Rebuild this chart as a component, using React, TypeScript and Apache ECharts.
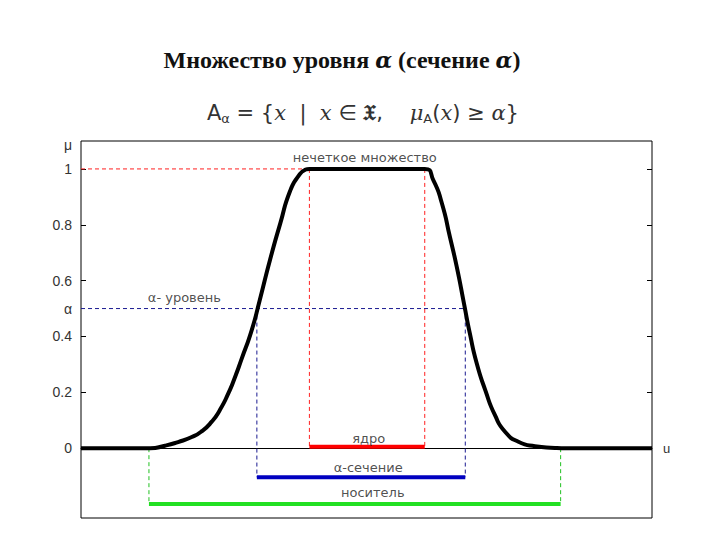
import React, { useEffect, useRef } from "react";
import * as echarts from "echarts";

// membership curve (u, mu)
const curveU = [0, 1.21, 1.47, 1.7, 1.94, 2.11, 2.29, 2.43, 2.58, 2.7, 2.81, 2.99, 3.13, 3.31, 3.49, 3.66, 3.81, 3.92, 4.0, 6.02, 6.17, 6.32, 6.46, 6.58, 6.71, 6.81, 6.93, 7.08, 7.25, 7.43, 7.66, 7.95, 8.3, 8.41, 10];
const curveMu = [0, 0, 0.009, 0.022, 0.04, 0.06, 0.095, 0.136, 0.196, 0.256, 0.318, 0.423, 0.53, 0.674, 0.805, 0.92, 0.975, 0.996, 1, 1, 0.96, 0.877, 0.757, 0.65, 0.515, 0.411, 0.304, 0.208, 0.118, 0.058, 0.023, 0.007, 0.001, 0, 0];

// key points
const alphaLevel = 0.5;
const coreBounds = [4.0, 6.02];
const cutBounds = [3.08, 6.73];
const supportBounds = [1.19, 8.4];
const barLevels = { core: 0.005, cut: -0.104, support: -0.2 };

// axis ticks
const yTicks = [0, 0.2, 0.4, 0.6, 0.8, 1];
const yLabelValues = [0, 0.2, 0.4, 0.5, 0.6, 0.8, 1, 1.085];
const yLabelTexts: Record<string, string> = { "0.5": "α", "1.085": "μ", "1": "1", "0": "0" };

// annotations
const annoTexts = ["нечеткое множество", "α- уровень", "ядро", "α-сечение", "носитель"];
const annoU = [4.97, 1.17, 5.04, 5.03, 5.11];
const annoMu = [1.04, 0.54, 0.036, -0.07, -0.158];
const annoAlign = ["center", "left", "center", "center", "center"];

export default function App() {
  const ref = useRef<HTMLDivElement>(null);
  useEffect(() => {
    if (!ref.current) return;
    const chart = echarts.init(ref.current, null, { renderer: "svg" });
    const dashed = (data: number[][], color: string) => ({
      type: "line",
      data,
      symbol: "none",
      silent: true,
      lineStyle: { color, width: 1, type: [4, 3] },
      z: 2,
    });
    const solid = (data: number[][], color: string, width: number) => ({
      type: "line",
      data,
      symbol: "none",
      silent: true,
      lineStyle: { color, width, cap: "butt" },
      z: 4,
    });
    const option: any = {
      animation: false,
      backgroundColor: "#ffffff",
      grid: { left: 81, right: 68, top: 141, bottom: 22, show: true, borderColor: "#000", borderWidth: 1, backgroundColor: "transparent" },
      graphic: [
        {
          type: "text",
          x: 342,
          y: 60,
          style: {
            text: "Множество уровня {a|α} (сечение {a|α})",
            font: "bold 24px 'Liberation Serif'",
            fill: "#111",
            align: "center",
            verticalAlign: "middle",
            rich: {
              a: { fontFamily: "DejaVu Serif", fontStyle: "italic", fontWeight: "bold", fontSize: 22, fill: "#111" },
            },
          },
        },
        {
          type: "text",
          x: 207,
          y: 113,
          style: {
            text: "{r|A}{sub|α}{r| = \u007B}{i|x}{r|  |  }{i|x}{r| ∈ }{f|𝔛}{r|,    }{m|μ}{sub|A}{r|(}{i|x}{r|) ≥ }{m|α}{r|\u007D}",
            font: "21px 'DejaVu Sans'",
            fill: "#333",
            align: "left",
            verticalAlign: "middle",
            rich: {
              r: { fontFamily: "DejaVu Sans", fontSize: 21, fill: "#333" },
              i: { fontFamily: "DejaVu Serif", fontStyle: "italic", fontSize: 21, fill: "#333" },
              m: { fontFamily: "DejaVu Serif", fontStyle: "italic", fontSize: 21, fill: "#333" },
              f: { fontFamily: "DejaVu Sans", fontSize: 21, fontWeight: "bold", fill: "#333" },
              sub: { fontFamily: "DejaVu Sans", fontSize: 13, fill: "#333", padding: [10, 0, 0, 0] },
            },
          },
        },
      ],
      xAxis: {
        type: "value",
        min: 0,
        max: 10,
        axisLine: { show: true, onZero: true, lineStyle: { color: "#000", width: 1 } },
        axisTick: { show: false },
        axisLabel: { show: false },
        splitLine: { show: false },
        name: "u",
        nameLocation: "end",
        nameGap: 11,
        nameTextStyle: { fontFamily: "Liberation Sans", fontSize: 13, color: "#333", padding: [0, 0, 34, 0] },
      },
      yAxis: [
        {
          type: "value",
          min: -0.25,
          max: 1.1,
          position: "left",
          axisLine: { show: false },
          splitLine: { show: false },
          axisTick: { show: true, inside: true, length: 5, customValues: yTicks, lineStyle: { color: "#000" } },
          axisLabel: {
            customValues: yLabelValues,
            margin: 9,
            fontFamily: "Liberation Sans",
            fontSize: 14,
            color: "#333",
            formatter: (v: number) => {
              const k = String(Math.round(v * 1000) / 1000);
              return yLabelTexts[k] !== undefined ? yLabelTexts[k] : String(v);
            },
          },
        },
        {
          type: "value",
          min: -0.25,
          max: 1.1,
          position: "right",
          axisLine: { show: false },
          splitLine: { show: false },
          axisTick: { show: true, inside: true, length: 5, customValues: yTicks, lineStyle: { color: "#000" } },
          axisLabel: { show: false },
        },
      ],
      series: [
        dashed([[0, 1], [coreBounds[0], 1]], "#ff2020"),
        dashed([[coreBounds[0], 1], [coreBounds[0], 0]], "#ff2020"),
        dashed([[coreBounds[1], 1], [coreBounds[1], 0]], "#ff2020"),
        dashed([[0, alphaLevel], [cutBounds[1], alphaLevel]], "#1a1a90"),
        dashed([[cutBounds[0], alphaLevel], [cutBounds[0], barLevels.cut]], "#1a1a90"),
        dashed([[cutBounds[1], alphaLevel], [cutBounds[1], barLevels.cut]], "#1a1a90"),
        dashed([[supportBounds[0], 0], [supportBounds[0], barLevels.support]], "#20c020"),
        dashed([[supportBounds[1], 0], [supportBounds[1], barLevels.support]], "#20c020"),
        solid([[coreBounds[0], barLevels.core], [coreBounds[1], barLevels.core]], "#ff0000", 4),
        solid([[cutBounds[0], barLevels.cut], [cutBounds[1], barLevels.cut]], "#0000c0", 4),
        solid([[supportBounds[0], barLevels.support], [supportBounds[1], barLevels.support]], "#22e022", 4),
        {
          type: "line",
          data: curveU.map((u, i) => [u, curveMu[i]]),
          symbol: "none",
          smooth: 0.6,
          lineStyle: { color: "#000", width: 4, join: "round" },
          z: 5,
        },
        {
          type: "scatter",
          symbolSize: 0,
          silent: true,
          z: 6,
          data: annoTexts.map((t, i) => ({
            value: [annoU[i], annoMu[i]],
            label: {
              show: true,
              formatter: t,
              position: "inside",
              align: annoAlign[i],
              verticalAlign: "middle",
              fontFamily: "DejaVu Sans",
              fontSize: 13,
              color: "#222",
            },
          })),
        },
      ],
    };
    chart.setOption(option);
    return () => chart.dispose();
  }, []);
  return <div ref={ref} style={{ position: "fixed", left: 0, top: 0, width: 720, height: 540 }} />;
}
